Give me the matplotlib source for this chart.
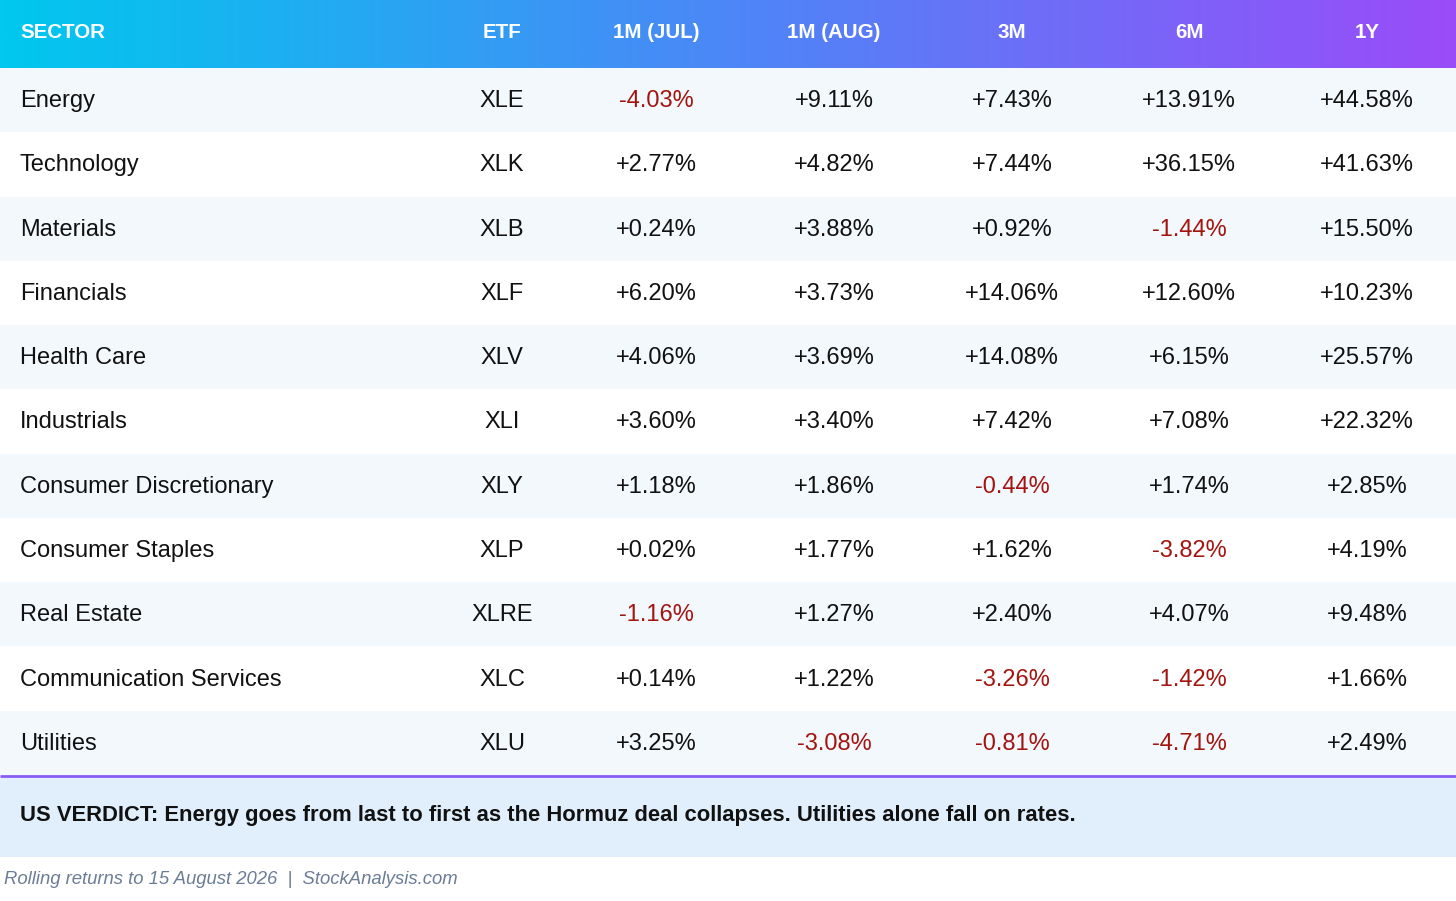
import matplotlib
matplotlib.use("Agg")
import matplotlib.pyplot as plt
import numpy as np
from matplotlib.colors import LinearSegmentedColormap
from matplotlib.patches import Rectangle

plt.rcParams['font.family'] = ['Liberation Sans', 'DejaVu Sans']

# ---- data ----
sectors = ["Energy", "Technology", "Materials", "Financials", "Health Care", "Industrials",
           "Consumer Discretionary", "Consumer Staples", "Real Estate",
           "Communication Services", "Utilities"]
etfs = ["XLE", "XLK", "XLB", "XLF", "XLV", "XLI", "XLY", "XLP", "XLRE", "XLC", "XLU"]
ret_1m_jul = [-4.03, 2.77, 0.24, 6.20, 4.06, 3.60, 1.18, 0.02, -1.16, 0.14, 3.25]
ret_1m_aug = [9.11, 4.82, 3.88, 3.73, 3.69, 3.40, 1.86, 1.77, 1.27, 1.22, -3.08]
ret_3m = [7.43, 7.44, 0.92, 14.06, 14.08, 7.42, -0.44, 1.62, 2.40, -3.26, -0.81]
ret_6m = [13.91, 36.15, -1.44, 12.60, 6.15, 7.08, 1.74, -3.82, 4.07, -1.42, -4.71]
ret_1y = [44.58, 41.63, 15.50, 10.23, 25.57, 22.32, 2.85, 4.19, 9.48, 1.66, 2.49]
headers = ["SECTOR", "ETF", "1M (JUL)", "1M (AUG)", "3M", "6M", "1Y"]
verdict = "US VERDICT: Energy goes from last to first as the Hormuz deal collapses. Utilities alone fall on rates."
footer = "Rolling returns to 15 August 2026  |  StockAnalysis.com"

W, H = 1456, 901
fig = plt.figure(figsize=(W / 100, H / 100), dpi=100)
ax = fig.add_axes([0, 0, 1, 1])
ax.set_xlim(0, W)
ax.set_ylim(H, 0)
ax.axis("off")

# header gradient
header_h = 68
cmap = LinearSegmentedColormap.from_list("hdr", ["#00C8EE", "#4C87F7", "#9A4CF9"])
grad = np.linspace(0, 1, 512).reshape(1, -1)
ax.imshow(grad, cmap=cmap, aspect="auto", extent=(0, W, header_h, 0), zorder=1)

col_x = [20, 502, 656, 834, 1012, 1189, 1367]
for i, h in enumerate(headers):
    ax.text(col_x[i], header_h / 2 - 1.5, h, ha="left" if i == 0 else "center", va="center",
            color="white", fontsize=14.8, fontweight="bold", zorder=3)

row_h = (775 - header_h) / len(sectors)
cols = [ret_1m_jul, ret_1m_aug, ret_3m, ret_6m, ret_1y]
for r in range(len(sectors)):
    y0 = header_h + r * row_h
    bg = "#F3F8FD" if r % 2 == 0 else "#FFFFFF"
    ax.add_patch(Rectangle((0, y0), W, row_h, facecolor=bg, edgecolor="none", zorder=1))
    yc = y0 + row_h / 2 + 1
    ax.text(col_x[0], yc, sectors[r], ha="left", va="center", fontsize=17, color="#111111", zorder=3)
    ax.text(col_x[1], yc, etfs[r], ha="center", va="center", fontsize=17, color="#111111", zorder=3)
    for c, series in enumerate(cols):
        v = series[r]
        ax.text(col_x[c + 2], yc, f"{v:+.2f}%", ha="center", va="center", fontsize=17,
                color="#A3140F" if v < 0 else "#111111", zorder=3)

# verdict box
ax.add_patch(Rectangle((0, 776), W, 81, facecolor="#E1EFFC", edgecolor="none", zorder=1))
ax.plot([0, W], [775.5, 775.5], color="#8A5CF5", lw=2, zorder=4, solid_capstyle="butt")
ax.text(20, 815.5, verdict, ha="left", va="center", fontsize=15.85, fontweight="bold",
        color="#111111", zorder=3)

# footer
ax.text(4, 879.5, footer, ha="left", va="center", fontsize=13.3, style="italic",
        color="#6B7D96", zorder=3)

fig.savefig("out.png", dpi=100)
